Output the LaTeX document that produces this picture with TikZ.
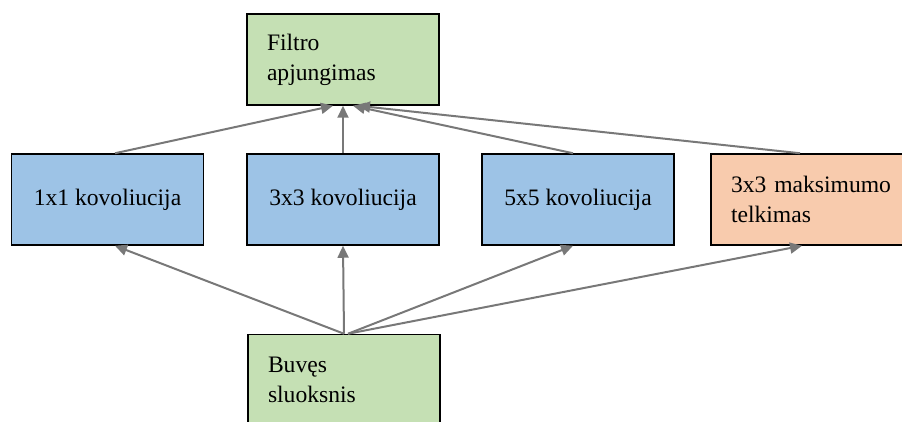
\documentclass[tikz,border=0pt]{standalone}
\usepackage{fontspec}
\setmainfont{LiberationSerif}[Extension=.ttf, UprightFont=*-Regular, BoldFont=*-Bold]
\usetikzlibrary{arrows.meta}
\definecolor{boxgreen}{RGB}{197,224,180}
\definecolor{boxblue}{RGB}{157,195,230}
\definecolor{boxorange}{RGB}{248,203,173}
\definecolor{linkgray}{RGB}{120,120,120}
\tikzset{
  layer/.style={draw=black, line width=1.5pt, rectangle, inner sep=0pt,
    minimum width=192pt, minimum height=91pt,
    font=\fontsize{23.6pt}{30pt}\selectfont},
  leftlayer/.style={layer, align=left, text width=152pt, inner xsep=20pt},
  link/.style={draw=linkgray, line width=2pt,
    -{Triangle[length=12pt,width=11pt]}},
}
\begin{document}
\begin{tikzpicture}[x=1pt,y=-1pt]
\useasboundingbox (0,0) rectangle (902,422);

% output of the block
\node[leftlayer, fill=boxgreen] (out) at (343,59.5) {Filtro\\apjungimas};

% parallel branches
\node[layer, fill=boxblue] (c1) at (107.5,199.5) {1x1 kovoliucija};
\node[layer, fill=boxblue] (c3) at (343,199.5) {3x3 kovoliucija};
\node[layer, fill=boxblue] (c5) at (578,199.5) {5x5 kovoliucija};
\node[leftlayer, fill=boxorange, text width=172pt] (mp) at (817,199.5) {3x3 maksimumo\\telkimas};

% input of the block
\node[leftlayer, fill=boxgreen] (in) at (344,380) {Buvęs\\sluoksnis};

% input to branches
\draw[link] (in.north) -- ([xshift=7.5pt]c1.south);
\draw[link] (in.north) -- (c3.south);
\draw[link] ([xshift=4pt]in.north) -- ([xshift=-5pt]c5.south);
\draw[link] ([xshift=4pt]in.north) -- ([xshift=-15pt]mp.south);

% branches to output
\draw[link] ([xshift=7.5pt]c1.north) -- ([xshift=-10pt]out.south);
\draw[link] (c3.north) -- (out.south);
\draw[link] ([xshift=-5pt]c5.north) -- ([xshift=10pt]out.south);
\draw[link] ([xshift=-17pt]mp.north) -- ([xshift=15pt]out.south);
\end{tikzpicture}
\end{document}
